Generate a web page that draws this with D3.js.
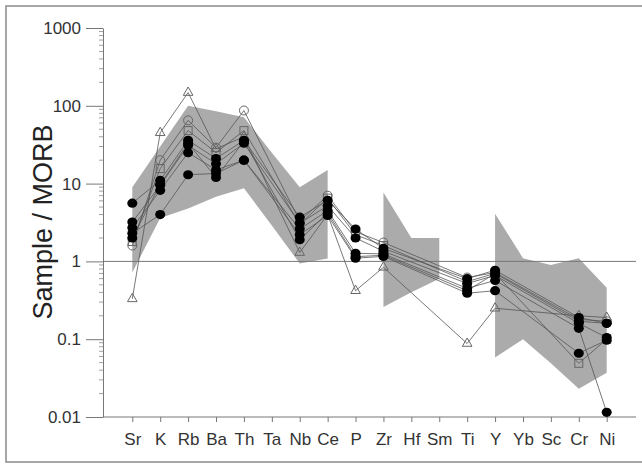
<!DOCTYPE html>
<html>
<head>
<meta charset="utf-8">
<script src="https://cdn.jsdelivr.net/npm/d3@7"></script>
<style>
  body { margin: 0; background: #fff; }
  svg { display: block; font-family: "Liberation Sans", Arial, sans-serif; }
  .field { fill: #ababab; stroke: none; }
  .series { fill: none; stroke: #555; stroke-width: 0.8px; }
  .dot { fill: #000; }
  .open { fill: none; stroke: #666; stroke-width: 1px; }
</style>
</head>
<body>
<div class="chart"></div>
<script>
document.addEventListener('DOMContentLoaded', start)

const elements = ['Sr', 'K', 'Rb', 'Ba', 'Th', 'Ta', 'Nb', 'Ce', 'P', 'Zr', 'Hf', 'Sm', 'Ti', 'Y', 'Yb', 'Sc', 'Cr', 'Ni']
const yTicks = [0.01, 0.1, 1, 10, 100, 1000]
const yTickLabels = ['0.01', '0.1', '1', '10', '100', '1000']

// grey reference field, null = gap between the pieces
const fieldUpper = [9, 30, 100, 85, 71, 25, 9, 15, null, 7.7, 2.0, 2.0, null, 4.1, 1.1, 0.9, 1.1, 0.46]
const fieldLower = [0.72, 3.6, 4.8, 6.8, 8.7, 2.9, 0.94, 1.09, null, 0.26, 0.4, 0.6, null, 0.058, 0.10, 0.049, 0.023, 0.037]

// filled circles
const sample1 = [5.6, 11, 36, 21, 36, null, 3.7, 6.1, 2.6, 1.47, null, null, 0.6, 0.77, null, null, 0.19, 0.16]
const sample2 = [3.2, 9.5, 31, 18, 33, null, 3.1, 5.2, 2.0, 1.35, null, null, 0.52, 0.66, null, null, 0.16, 0.105]
const sample3 = [2.7, 8.2, 25, 15, 20, null, 2.6, 4.5, 1.27, 1.25, null, null, 0.45, 0.57, null, null, 0.138, 0.0115]
const sample4 = [2.3, 4.0, 13, 13.5, 20, null, 2.2, 3.9, 1.1, 1.16, null, null, 0.39, 0.42, null, null, 0.066, 0.097]
const sample5 = [2.0, 9.8, 33, 12, 35, null, 1.9, 4.2, 1.15, 1.2, null, null, 0.42, 0.7, null, null, 0.17, 0.16]
// open symbols
const sampleCircle = [1.6, 20, 65, 29, 87, null, 3.3, 7, 2.4, 1.75, null, null, 0.62, 0.72, null, null, 0.18, 0.17]
const sampleSquare = [1.8, 15.6, 48, 25, 48, null, 3.0, 6.5, 2.2, 1.6, null, null, 0.55, 0.7, null, null, 0.049, 0.1]
const sampleTriangle = [0.33, 45, 148, 28, 40, null, 1.3, 4, 0.42, 0.84, null, null, 0.088, 0.25, null, null, 0.2, 0.19]

const width = 642
const height = 465

function start () {
  const svg = d3.select('.chart')
    .append('svg')
    .attr('width', width)
    .attr('height', height)

  const x = d3.scalePoint()
    .domain(elements)
    .range([103, 636])
    .padding(1.05)
  const y = d3.scaleLog()
    .domain([0.01, 1000])
    .range([417, 28])

  // outer frame
  svg.append('rect')
    .attr('x', 6)
    .attr('y', 6)
    .attr('width', 660)
    .attr('height', 456)
    .attr('fill', 'none')
    .attr('stroke', '#8a8a8a')
    .attr('stroke-width', 1.5)

  drawField(svg, x, y)
  drawAxes(svg, x, y)
  drawSeries(svg, x, y)
}

function fieldPieces () {
  let pieces = []
  let current = []
  elements.forEach((el, i) => {
    if (fieldUpper[i] == null) {
      if (current.length) pieces.push(current)
      current = []
    } else {
      current.push(i)
    }
  })
  if (current.length) pieces.push(current)
  return pieces
}

function drawField (svg, x, y) {
  const line = d3.line()
    .x(d => x(elements[d.i]))
    .y(d => y(d.v))
  fieldPieces().forEach(idx => {
    const top = idx.map(i => ({ i, v: fieldUpper[i] }))
    const bottom = idx.slice().reverse().map(i => ({ i, v: fieldLower[i] }))
    svg.append('path')
      .attr('class', 'field')
      .attr('d', line(top.concat(bottom)) + 'Z')
  })
}

function drawAxes (svg, x, y) {
  // line at 1
  svg.append('line')
    .attr('x1', 103)
    .attr('x2', 636)
    .attr('y1', y(1))
    .attr('y2', y(1))
    .attr('stroke', '#777')
    .attr('stroke-width', 1)

  const yAxis = svg.append('g')
    .attr('transform', 'translate(103,0)')
    .call(d3.axisLeft(y)
      .tickValues(yTicks)
      .tickFormat((d, i) => yTickLabels[i])
      .tickSize(17)
      .tickSizeOuter(0)
      .tickPadding(5))
  yAxis.selectAll('text')
    .attr('font-size', 17)
    .attr('fill', '#333')
    .attr('font-family', '"Liberation Sans", Arial, sans-serif')

  // minor log ticks
  let minor = []
  for (let e = -2; e < 3; e++) {
    for (let m = 2; m < 10; m++) minor.push(m * Math.pow(10, e))
  }
  svg.append('g')
    .selectAll('line')
    .data(minor)
    .enter().append('line')
    .attr('x1', 99)
    .attr('x2', 103)
    .attr('y1', d => y(d))
    .attr('y2', d => y(d))
    .attr('stroke', '#888')
    .attr('stroke-width', 0.8)

  const xAxis = svg.append('g')
    .attr('transform', 'translate(0,417)')
    .call(d3.axisBottom(x)
      .tickSize(5)
      .tickSizeOuter(0)
      .tickPadding(11))
  xAxis.select('.domain').attr('d', 'M103,0H636')
  xAxis.selectAll('text')
    .attr('font-size', 17)
    .attr('fill', '#333')
    .attr('font-family', '"Liberation Sans", Arial, sans-serif')

  svg.selectAll('.domain, .tick line')
    .attr('stroke', '#777')

  svg.append('text')
    .attr('transform', 'translate(52,222) rotate(-90)')
    .attr('text-anchor', 'middle')
    .attr('font-size', 27)
    .attr('fill', '#222')
    .text('Sample / MORB')
}

function points (values) {
  return values
    .map((v, i) => ({ el: elements[i], v }))
    .filter(d => d.v != null)
}

function drawSeries (svg, x, y) {
  const line = d3.line()
    .x(d => x(d.el))
    .y(d => y(d.v))
  const all = [sampleTriangle, sampleSquare, sampleCircle, sample1, sample2, sample3, sample4, sample5]
  svg.append('g')
    .selectAll('.series')
    .data(all)
    .enter().append('path')
    .attr('class', 'series')
    .attr('d', d => line(points(d)))

  // open triangles
  const tri = d3.symbol().type(d3.symbolTriangle).size(40)
  svg.append('g')
    .selectAll('path')
    .data(points(sampleTriangle))
    .enter().append('path')
    .attr('class', 'open')
    .attr('d', tri)
    .attr('transform', d => `translate(${x(d.el)},${y(d.v)})`)

  svg.append('g')
    .selectAll('rect')
    .data(points(sampleSquare))
    .enter().append('rect')
    .attr('class', 'open')
    .attr('x', d => x(d.el) - 4)
    .attr('y', d => y(d.v) - 4)
    .attr('width', 8)
    .attr('height', 8)

  svg.append('g')
    .selectAll('circle')
    .data(points(sampleCircle))
    .enter().append('circle')
    .attr('class', 'open')
    .attr('cx', d => x(d.el))
    .attr('cy', d => y(d.v))
    .attr('r', 4.5)

  const filled = [sample1, sample2, sample3, sample4, sample5]
  filled.forEach(s => {
    svg.append('g')
      .selectAll('ellipse')
      .data(points(s))
      .enter().append('ellipse')
      .attr('class', 'dot')
      .attr('cx', d => x(d.el))
      .attr('cy', d => y(d.v))
      .attr('rx', 5)
      .attr('ry', 4.6)
  })
}
</script>
</body>
</html>
